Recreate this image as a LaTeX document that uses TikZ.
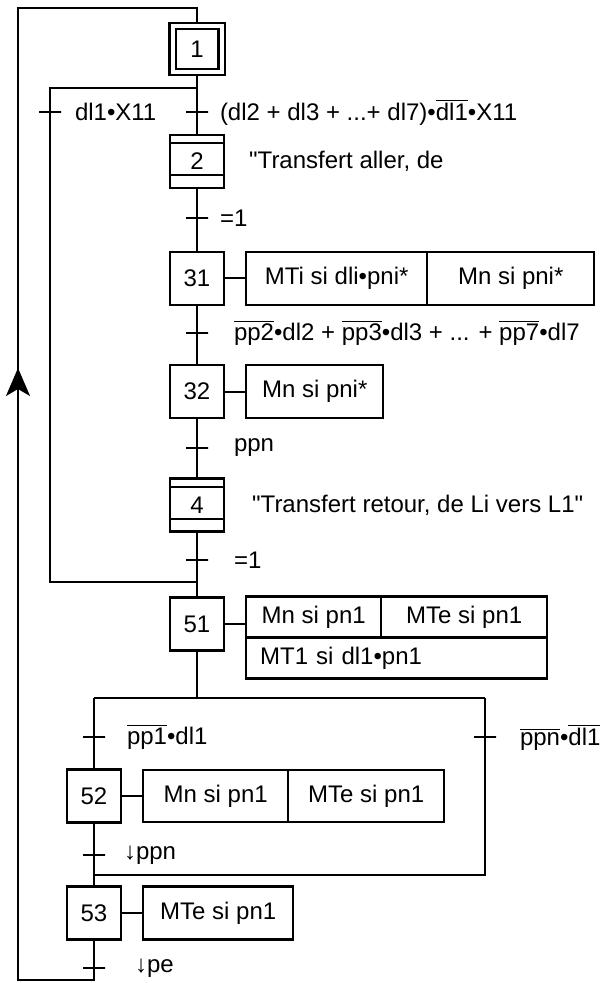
\documentclass[tikz,border=0pt]{standalone}
\usepackage{fontspec}
\setmainfont{Liberation Sans}[Ligatures=TeXOff]
\usetikzlibrary{positioning,arrows.meta}
\newcommand{\nonx}[1]{$\overline{\mbox{#1}}$}

\begin{document}
\begin{tikzpicture}[x=0.5pt,y=-0.5pt,line width=1pt,
    every node/.append style={font=\fontsize{12}{14}\selectfont},
    etape/.style={rectangle,draw,line width=1.2pt,minimum width=27pt,minimum height=26.5pt,inner sep=0pt},
    etapeinit/.style={etape,double,double distance=2pt,line width=1.1pt,minimum width=24.5pt,minimum height=23pt,outer sep=2pt},
    macro/.style={etape,path picture={
        \draw[line width=1pt] ([yshift=-4pt]path picture bounding box.north west) -- ([yshift=-4pt]path picture bounding box.north east);
        \draw[line width=1pt] ([yshift=6.5pt]path picture bounding box.south west) -- ([yshift=6.5pt]path picture bounding box.south east);}},
    action/.style={rectangle,draw,line width=1.2pt,minimum height=26.5pt,inner sep=0pt,outer sep=0pt},
    trans/.style={draw,line width=1pt,minimum width=11pt,minimum height=0pt,inner sep=0pt},
    cond/.style={inner sep=0pt}]
    \useasboundingbox (0,0) rectangle (602,983);

    % etapes
    \node[etapeinit] (s1) at (197,49) {1};
    \node[macro] (s2) at (197,161.5) {2};
    \node[etape] (s31) at (197,278.5) {31};
    \node[etape] (s32) at (197,391.5) {32};
    \node[macro] (s4) at (197,505) {4};
    \node[etape] (s51) at (197,624) {51};
    \node[etape] (s52) at (94,796) {52};
    \node[etape] (s53) at (94,913) {53};

    % transitions
    \node[trans] (t1) at (197,112) {};
    \node[trans] (tl1) at (50,112) {};
    \node[trans] (t2) at (197,218) {};
    \node[trans] (t31) at (197,333) {};
    \node[trans] (t32) at (197,448) {};
    \node[trans] (t4) at (197,560) {};
    \node[trans] (t51a) at (94,737) {};
    \node[trans] (t51b) at (485,737) {};
    \node[trans] (t52) at (94,855) {};
    \node[trans] (t53) at (94,968) {};

    % receptivites
    \node[cond,right=5pt of t1] (c1) {(dl2 + dl3 + ...+ dl7)•\nonx{dl1}•X11};
    \node[cond,right=6pt of tl1] (cl1) {dl1•X11};
    \node[cond,right=5pt of t2] (c2) {=1};
    \node[cond,right=12pt of t31] (c31) {\nonx{pp2}•dl2 + \nonx{pp3}•dl3 + ... + \nonx{pp7}•dl7};
    \node[cond,right=12pt of t32] (c32) {ppn};
    \node[cond,right=12pt of t4] (c4) {=1};
    \node[cond,right=10pt of t51a] (c51a) {\nonx{pp1}•dl1};
    \node[cond,right=11pt of t51b] (c51b) {\nonx{ppn}•\nonx{dl1}};
    \node[cond,right=8.5pt of t52] (c52) {↓ppn};
    \node[cond,right=14pt of t53] (c53) {↓pe};

    % commentaires des macro-etapes
    \node[cond,right=11.5pt of s2] (m2) {"Transfert aller, de};
    \node[cond,right=13pt of s4] (m4) {"Transfert retour, de Li vers L1"};

    % actions
    \node[action,minimum width=90.5pt,right=10.5pt of s31] (a31a) {MTi si dli•pni*};
    \node[action,minimum width=83.5pt,right=0pt of a31a] (a31b) {Mn si pni*};
    \node[action,minimum width=68.5pt,right=10.5pt of s32] (a32) {Mn si pni*};
    \node[action,minimum width=67.5pt,minimum height=20.5pt,right=10.5pt of s51.north east,anchor=north west] (a51a) {Mn si pn1};
    \node[action,minimum width=83pt,minimum height=20.5pt,right=0pt of a51a] (a51b) {MTe si pn1};
    \node[action,minimum height=20.5pt,inner xsep=7pt,text width=136.5pt,align=left,below=0pt of a51a.south west,anchor=north west] (a51c) {MT1 si dl1•pn1};
    \node[action,minimum width=72.5pt,minimum height=26pt,right=10.5pt of s52] (a52a) {Mn si pn1};
    \node[action,minimum width=78pt,minimum height=26pt,right=0pt of a52a] (a52b) {MTe si pn1};
    \node[action,minimum width=75pt,right=10.5pt of s53] (a53) {MTe si pn1};

    \draw (s31) -- (a31a);
    \draw (s32) -- (a32);
    \draw (s51.east) -- (s51.east -| a51a.west);
    \draw (s52) -- (a52a);
    \draw (s53) -- (a53);

    % points de liaison
    \coordinate (d1) at (197,88);
    \coordinate (d1l) at (50,88);
    \coordinate (g1) at (197,582);
    \coordinate (g1l) at (50,582);
    \coordinate (d2) at (197,698);
    \coordinate (d2l) at (94,698);
    \coordinate (d2r) at (485,698);
    \coordinate (g2r) at (485,875);
    \coordinate (g2l) at (94,875);
    \coordinate (b1) at (94,980);
    \coordinate (b2) at (18,980);
    \coordinate (b3) at (18,8);
    \coordinate (b4) at (197,8);
    \coordinate (fl0) at (18,420);
    \coordinate (fl) at (18,368);

    % liaisons
    \draw (s1) -- (t1) -- (s2) -- (t2) -- (s31) -- (t31) -- (s32) -- (t32) -- (s4) -- (t4) -- (s51);
    \draw (d1) -- (d1l) -- (tl1) -- (g1l) -- (g1);
    \draw (s51) -- (d2);
    \draw (d2l) -- (d2r);
    \draw (d2l) -- (t51a) -- (s52) -- (t52) -- (s53) -- (t53) -- (b1) -- (b2) -- (b3) -- (b4) -- (s1);
    \draw (d2r) -- (t51b) -- (g2r) -- (g2l);
    \draw[-{Stealth[length=14pt,width=12pt,inset=3.5pt]}] (fl0) -- (fl);
\end{tikzpicture}
\end{document}
